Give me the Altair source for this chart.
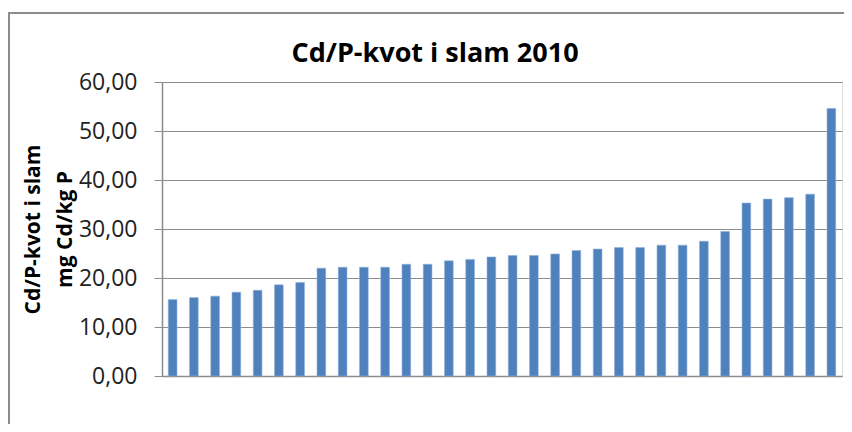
import altair as alt
import pandas as pd

categories = [f"K{i+1}" for i in range(32)]
values = [15.6, 16.0, 16.3, 17.1, 17.5, 18.6, 19.1, 22.0,
          22.2, 22.2, 22.2, 22.8, 22.8, 23.5, 23.8, 24.3,
          24.6, 24.6, 24.9, 25.6, 25.9, 26.2, 26.2, 26.7,
          26.7, 27.5, 29.5, 35.3, 36.1, 36.4, 37.1, 54.6]
y_ticks = [0, 10, 20, 30, 40, 50, 60]

df = pd.DataFrame({"cat": categories, "val": values})

FONT = "Open Sans"

bars = alt.Chart(df).mark_bar(color="#4F81BD", stroke="#8FB0DA", strokeWidth=0.6).encode(
    x=alt.X("cat:N", sort=categories,
            scale=alt.Scale(paddingInner=0.59, paddingOuter=0.295),
            axis=alt.Axis(labels=False, ticks=False, title=None,
                          domainColor="#8c8c8c", domainWidth=1.5)),
    y=alt.Y("val:Q",
            scale=alt.Scale(domain=[0, 60], nice=False),
            axis=alt.Axis(values=y_ticks,
                          labelExpr="replace(format(datum.value, '.2f'), '.', ',')",
                          labelFont=FONT, labelFontSize=23, labelColor="#222222",
                          labelPadding=17, tickSize=8, tickColor="#8c8c8c",
                          domainColor="#8c8c8c", domainWidth=1.5,
                          gridColor="#8c8c8c", gridWidth=1.2,
                          title=["Cd/P-kvot i slam", "mg Cd/kg P"],
                          titleFont=FONT, titleFontSize=21, titleFontWeight="bold",
                          titleColor="#000000", titleAngle=-90,
                          titleX=-140, titleY=147, titleAlign="center",
                          titleBaseline="top", titleLineHeight=32))
)

border_top = alt.Chart(df).mark_rule(color="#8c8c8c", strokeWidth=1.5, clip=False).encode(
    x=alt.value(-157), x2=alt.value(700), y=alt.value(-69)
)
border_left = alt.Chart(df).mark_rule(color="#8c8c8c", strokeWidth=1.5, clip=False).encode(
    x=alt.value(-153), y=alt.value(-69), y2=alt.value(360)
)

chart = alt.layer(bars, border_top, border_left).properties(
    width=680, height=294,
    padding={"left": 154, "top": 74, "right": 2, "bottom": 48},
    autosize=alt.AutoSizeParams(type="none"),
    title=alt.TitleParams("Cd/P-kvot i slam 2010", font=FONT, fontSize=27,
                          fontWeight="bold", color="#000000", anchor="middle",
                          frame="group", dx=-67, offset=-56),
).configure_view(stroke=None).configure(background="white")

chart.save("out.html", embed_options={"renderer": "svg", "actions": False})
